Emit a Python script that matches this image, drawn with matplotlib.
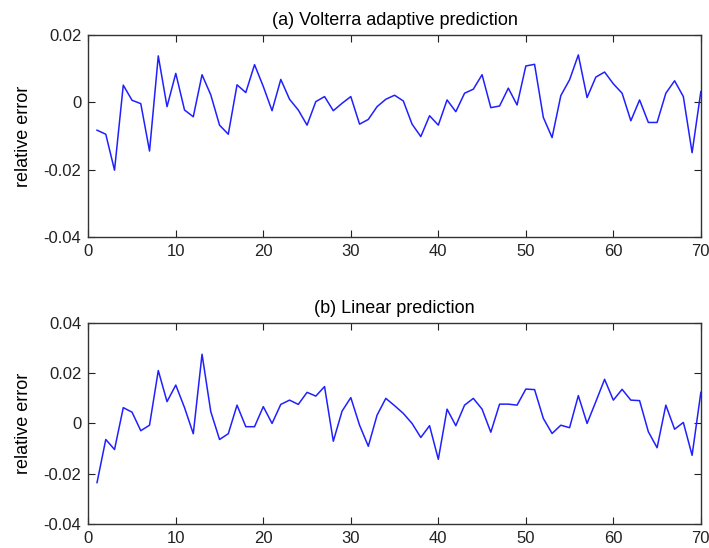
import numpy as np
from matplotlib import pyplot as plt

plt.rcParams['font.family'] = ['Liberation Sans', 'DejaVu Sans']

# samples 1..70
n_index = list(range(1, 71))

volterra_err = [-0.0083, -0.0095, -0.0202, 0.0051, 0.0006, -0.0004, -0.0145, 0.0138, -0.0013, 0.0086,
                -0.0023, -0.0043, 0.0082, 0.0022, -0.0068, -0.0095, 0.0052, 0.0029, 0.0112, 0.0047,
                -0.0025, 0.0068, 0.0009, -0.0023, -0.0068, 0.0002, 0.0017, -0.0025, -0.0003, 0.0017,
                -0.0065, -0.0051, -0.0013, 0.0009, 0.0021, 0.0004, -0.0065, -0.0102, -0.0040, -0.0068,
                0.0007, -0.0028, 0.0027, 0.0039, 0.0082, -0.0016, -0.0011, 0.0042, -0.0008, 0.0108,
                0.0113, -0.0045, -0.0105, 0.0020, 0.0067, 0.0141, 0.0014, 0.0075, 0.0090, 0.0055,
                0.0027, -0.0055, 0.0007, -0.0060, -0.0060, 0.0027, 0.0064, 0.0017, -0.0150, 0.0032]

linear_err = [-0.0236, -0.0064, -0.0104, 0.0063, 0.0045, -0.0029, -0.0007, 0.0211, 0.0087, 0.0153,
              0.0063, -0.0041, 0.0276, 0.0047, -0.0064, -0.0041, 0.0073, -0.0013, -0.0013, 0.0067,
              0.0000, 0.0076, 0.0093, 0.0076, 0.0124, 0.0109, 0.0147, -0.0071, 0.0049, 0.0103,
              -0.0007, -0.0091, 0.0033, 0.0100, 0.0071, 0.0040, 0.0000, -0.0056, -0.0009, -0.0143,
              0.0057, -0.0009, 0.0073, 0.0100, 0.0057, -0.0035, 0.0077, 0.0077, 0.0073, 0.0137,
              0.0135, 0.0020, -0.0040, -0.0007, -0.0017, 0.0111, 0.0000, 0.0087, 0.0176, 0.0093,
              0.0136, 0.0093, 0.0091, -0.0033, -0.0097, 0.0073, -0.0023, 0.0004, -0.0127, 0.0124]

x_ticks = [0, 10, 20, 30, 40, 50, 60, 70]
a_yticks = [-0.04, -0.02, 0, 0.02]
a_ylabels = ['-0.04', '-0.02', '0', '0.02']
b_yticks = [-0.04, -0.02, 0, 0.02, 0.04]
b_ylabels = ['-0.04', '-0.02', '0', '0.02', '0.04']

fig = plt.figure(figsize=(7.09, 5.48), dpi=100)
ax1 = fig.add_axes([0.1245, 0.568, 0.864, 0.368])
ax2 = fig.add_axes([0.1245, 0.0443, 0.864, 0.366])

panels = [(ax1, volterra_err, '(a) Volterra adaptive prediction', a_yticks, a_ylabels, (-0.04, 0.02)),
          (ax2, linear_err, '(b) Linear prediction', b_yticks, b_ylabels, (-0.04, 0.04))]

for ax, err, title, yt, yl, ylim in panels:
    ax.plot(n_index, err, color='#2020ff', linewidth=1.1)
    ax.set_xlim(0, 70)
    ax.set_ylim(*ylim)
    ax.set_xticks(x_ticks)
    ax.set_yticks(yt)
    ax.set_yticklabels(yl)
    ax.tick_params(direction='in', top=True, right=True, length=5, width=0.8,
                   labelsize=12, colors='#222222', pad=5)
    ax.set_title(title, fontsize=13, pad=7)
    ax.set_ylabel('relative error', fontsize=13, labelpad=8)
    for s in ax.spines.values():
        s.set_linewidth(1.0)
        s.set_color('#333333')

plt.savefig('out.png', dpi=100)
